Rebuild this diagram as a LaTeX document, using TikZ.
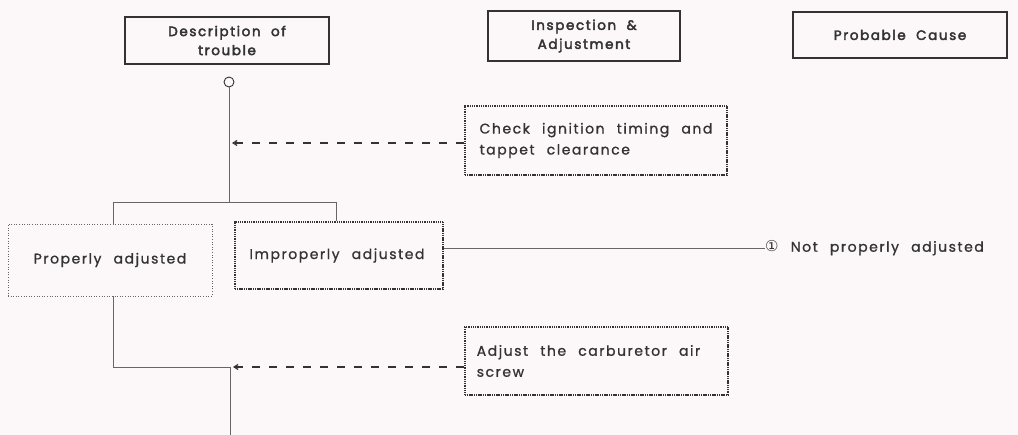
\documentclass[tikz,border=0pt]{standalone}
\usepackage{fontspec}
\setmainfont{Poppins}[LetterSpace=11, WordSpace=2.3, FakeBold=1]
\newfontfamily\headfont{Poppins}[LetterSpace=12, WordSpace=2, FakeBold=3]
\newfontfamily\symfont{DejaVu Sans}
\usetikzlibrary{arrows.meta}
\definecolor{bg}{HTML}{FCF7F9}
\definecolor{ink}{HTML}{333333}
\definecolor{lineg}{HTML}{666666}
\tikzset{
  head/.style={draw=ink, line width=2.2pt, rectangle, text=ink, font=\headfont\fontsize{13.5}{19}\selectfont, align=center, inner sep=0pt},
  dotbox/.style={draw=ink, line width=2.4pt, dash pattern=on 1.1pt off 0.7pt, rectangle, text=ink, inner sep=0pt},
  thinbox/.style={draw=lineg, line width=0.7pt, dash pattern=on 1pt off 1.6pt, rectangle, text=ink, inner sep=0pt},
  wire/.style={draw=lineg, line width=0.9pt},
  darr/.style={draw=ink, line width=1.2pt, dash pattern=on 8pt off 9pt, -{Straight Barb[length=4pt,width=5pt]}},
  body/.style={font=\fontsize{14}{21}\selectfont}
}
\begin{document}
\begin{tikzpicture}[x=1pt,y=-1pt]
\fill[bg] (0,0) rectangle (1018,435);
\useasboundingbox (0,0) rectangle (1018,435);
% headers
\node[head, minimum width=204pt, minimum height=47pt] (desc) at (227,40.5) {Description of\\trouble};
\node[head, minimum width=192pt, minimum height=50pt] (insp) at (584,36) {Inspection \&\\Adjustment};
\node[head, minimum width=214pt, minimum height=46pt] (cause) at (900,35) {Probable Cause};
% start circle
\node[circle, draw=ink, line width=0.9pt, minimum size=10pt, inner sep=0pt] (start) at (229,82) {};
% check box
\node[dotbox, body, minimum width=262pt, minimum height=69pt, align=left] (check) at (596,140.5) {Check ignition timing and\\tappet clearance};
% branch
\coordinate (j1) at (229,202);
\coordinate (jL) at (113,202);
\coordinate (jR) at (336,202);
\node[thinbox, body, minimum width=204pt, minimum height=72pt] (prop) at (110,260) {Properly adjusted};
\node[dotbox, body, minimum width=208pt, minimum height=67pt] (improp) at (339,255.5) {Improperly adjusted\hspace*{4pt}};
\node[anchor=west, body, text=ink, inner sep=0pt] (nc) at (765,248) {{\symfont\fontsize{15}{16}\selectfont ①} Not properly adjusted};
% adjust box
\node[dotbox, body, minimum width=263pt, minimum height=68pt, align=left] (adj) at (596.5,361) {Adjust the carburetor air\hspace*{16pt}\\screw};
\coordinate (j2) at (230,367);
\coordinate (bot) at (230,435);
% connectors
\draw[wire] (start.south) -- (j1);
\draw[wire] (jL) -- (jR);
\draw[wire] (jL) -- (jL |- prop.north);
\draw[wire] (jR) -- (jR |- improp.north);
\draw[wire] (improp.east |- nc.west) -- (nc.west);
\draw[wire] (jL |- prop.south) -- (jL |- j2) -- (j2) -- (bot);
\draw[darr] (check.west |- 0,143) -- (232,143);
\draw[darr] (adj.west |- 0,367) -- (233,367);
\end{tikzpicture}
\end{document}
